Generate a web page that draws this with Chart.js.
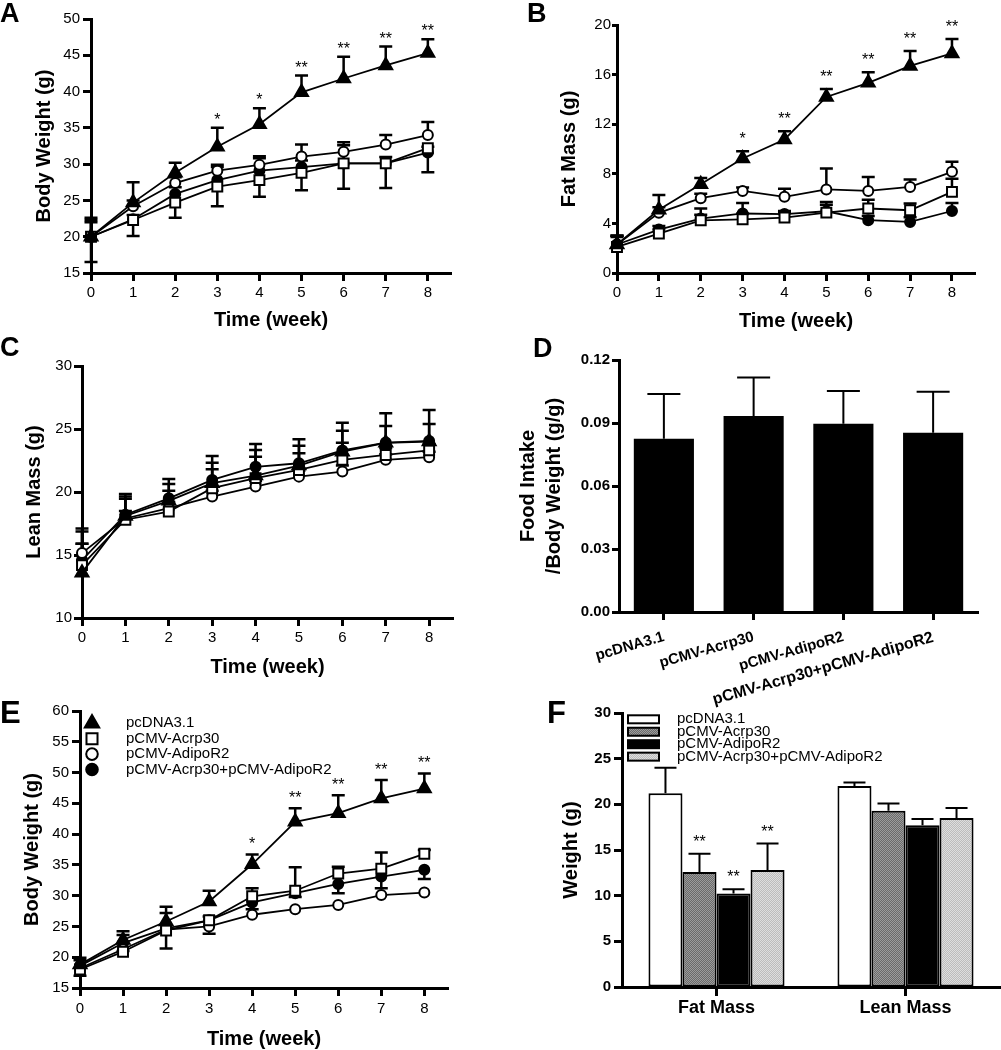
<!DOCTYPE html>
<html><head><meta charset="utf-8">
<script src="https://cdn.jsdelivr.net/npm/chart.js@4.4.1/dist/chart.umd.min.js"></script>
<style>
html,body{margin:0;padding:0;background:#fff;overflow:hidden;width:1001px;height:1050px;position:relative;}
canvas{position:absolute;}
.lbl{position:absolute;font-family:Arial,'Liberation Sans',sans-serif;font-weight:bold;line-height:1;color:#000;}
</style></head><body>
<canvas id="cA" width="470" height="340" style="left:0;top:0"></canvas>
<canvas id="cB" width="501" height="340" style="left:500px;top:0"></canvas>
<canvas id="cC" width="470" height="345" style="left:0;top:340px"></canvas>
<canvas id="cE" width="470" height="375" style="left:0;top:680px"></canvas>
<canvas id="cF" width="501" height="370" style="left:500px;top:680px"></canvas>
<canvas id="cD" width="501" height="385" style="left:500px;top:340px"></canvas>
<div class="lbl" style="left:0;top:0;font-size:27px">A</div>
<div class="lbl" style="left:527px;top:0;font-size:27px">B</div>
<div class="lbl" style="left:0;top:334px;font-size:27px">C</div>
<div class="lbl" style="left:533px;top:335px;font-size:27px">D</div>
<div class="lbl" style="left:0;top:697px;font-size:31px">E</div>
<div class="lbl" style="left:547px;top:697px;font-size:31px">F</div>
<script>
// ---------- data ----------
const weeks = [0, 1, 2, 3, 4, 5, 6, 7, 8];
const groups = ['pcDNA3.1', 'pCMV-Acrp30', 'pCMV-AdipoR2', 'pCMV-Acrp30+pCMV-AdipoR2'];

// Panel A: body weight (g)
const aTri = [20.0, 24.7, 28.8, 32.4, 35.5, 39.9, 41.8, 43.6, 45.3];
const aTriErr = [22.6, 27.5, 30.2, 35.0, 37.7, 42.2, 44.8, 46.2, 47.2];
const aSq = [20.0, 22.3, 24.7, 26.9, 27.8, 28.8, 30.1, 30.1, 32.2];
const aSqErrLow = [16.5, 20.1, 22.6, 24.2, 25.5, 26.4, 26.6, 26.7, 28.9];
const aOc = [20.0, 24.2, 27.4, 29.1, 29.9, 31.05, 31.7, 32.7, 34.0];
const aOcErr = [22.3, 25.0, 28.2, 29.9, 31.1, 32.7, 33.0, 34.0, 35.8];
const aFc = [20.0, 22.4, 25.9, 27.8, 29.1, 29.6, 30.1, 30.1, 31.6];
const aFcErr = [22.0, 23.0, 26.8, 29.6, 30.8, 30.5, 32.6, 31.0, 32.4];
const aStars = ['', '', '', '*', '*', '**', '**', '**', '**'];

// Panel B: fat mass (g)
const bTri = [2.3, 5.1, 7.16, 9.23, 10.77, 14.2, 15.34, 16.7, 17.71];
const bTriErr = [3.0, 6.3, 7.67, 9.82, 11.44, 14.83, 16.18, 17.9, 18.87];
const bSq = [2.1, 3.18, 4.25, 4.33, 4.47, 4.87, 5.2, 5.06, 6.54];
const bSqErr = [2.9, 3.5, 4.7, 4.8, 4.9, 5.5, 5.9, 5.6, 7.6];
const bOc = [2.3, 4.85, 6.03, 6.62, 6.14, 6.74, 6.62, 6.94, 8.16];
const bOcErr = [3.0, 5.3, 6.4, 6.9, 6.8, 8.43, 7.75, 7.54, 8.97];
const bFc = [2.3, 3.5, 4.39, 4.8, 4.75, 4.98, 4.26, 4.12, 5.0];
const bFcErr = [3.0, 3.8, 5.2, 5.65, 5.0, 5.73, 4.6, 4.5, 5.65];
const bStars = ['', '', '', '*', '**', '**', '**', '**', '**'];

// Panel C: lean mass (g)
const cTri = [13.6, 18.1, 19.3, 20.7, 21.3, 22.1, 23.2, 23.9, 24.0];
const cTriErr = [17.1, 19.85, 21.04, 22.86, 23.8, 24.19, 25.5, 26.25, 26.5];
const cSq = [14.2, 17.8, 18.45, 20.3, 21.1, 21.75, 22.55, 22.94, 23.3];
const cSqErr = [15.9, 19.46, 20.1, 21.8, 22.8, 23.08, 23.9, 23.5, 23.8];
const cOc = [15.15, 17.9, 18.72, 19.64, 20.43, 21.22, 21.62, 22.55, 22.76];
const cOcErr = [15.9, 18.5, 19.2, 20.1, 20.9, 21.7, 22.1, 23.0, 23.2];
const cFc = [14.6, 18.2, 19.5, 20.96, 22.0, 22.28, 23.3, 23.92, 24.05];
const cFcErr = [16.87, 19.64, 20.64, 22.33, 23.34, 23.68, 24.87, 25.24, 25.4];

// Panel D: food intake / body weight (g/g)
const dVals = [0.0825, 0.0933, 0.0896, 0.0854];
const dErr = [0.1038, 0.1117, 0.1052, 0.1049];

// Panel E: body weight (g)
const eTri = [18.8, 22.8, 25.8, 29.05, 35.1, 42.0, 43.4, 45.8, 47.4];
const eTriErr = [19.9, 24.2, 28.2, 30.8, 36.7, 44.2, 46.3, 48.8, 49.85];
const eSq = [18.0, 20.9, 24.35, 26.0, 29.9, 30.8, 33.6, 34.4, 36.8];
const eSqErr = [19.5, 23.6, 27.2, 26.6, 31.2, 34.6, 34.7, 37.0, 37.4];
const eOc = [18.2, 21.3, 24.5, 25.0, 26.9, 27.8, 28.5, 30.1, 30.5];
const eFc = [18.6, 22.3, 24.7, 26.0, 28.9, 30.4, 31.9, 33.1, 34.2];
const eFcErrLow = [17.0, 21.0, 21.4, 23.8, 27.8, 29.8, 30.4, 31.2, 32.7];
const eStars = ['', '', '', '', '*', '**', '**', '**', '**'];

// Panel F: weight (g)
const fCats = ['Fat Mass', 'Lean Mass'];
const fPc = [21.2, 22.0];
const fPcErr = [24.0, 22.4];
const fAc = [12.6, 19.3];
const fAcErr = [14.6, 20.1];
const fAd = [10.25, 17.7];
const fAdErr = [10.7, 18.4];
const fCo = [12.8, 18.5];
const fCoErr = [15.7, 19.6];
const fStars = [['', ''], ['**', ''], ['**', ''], ['**', '']];

// ---------- helpers ----------
const FONT = "Arial, 'Liberation Sans', sans-serif";
Chart.defaults.font.family = FONT;
Chart.defaults.color = '#000';
Chart.defaults.font.size = 15;

function drawMarker(ctx, style, x, y, r, fill) {
  ctx.beginPath();
  if (style === 'triangle') {
    ctx.moveTo(x, y - r); ctx.lineTo(x + 0.866 * r, y + 0.5 * r); ctx.lineTo(x - 0.866 * r, y + 0.5 * r); ctx.closePath();
  } else if (style === 'rect') {
    const s = r * Math.SQRT1_2; ctx.rect(x - s, y - s, 2 * s, 2 * s);
  } else { ctx.arc(x, y, r, 0, Math.PI * 2); }
  ctx.fillStyle = fill; ctx.fill(); ctx.lineWidth = 2; ctx.strokeStyle = '#000'; ctx.stroke();
}

const errorBars = {
  id: 'errorBars',
  beforeDatasetsDraw(chart, args, o) {
    const ctx = chart.ctx, ys = chart.scales.y;
    ctx.save();
    ctx.strokeStyle = '#000'; ctx.lineWidth = o.width || 2.5;
    chart.data.datasets.forEach((ds, di) => {
      const meta = chart.getDatasetMeta(di);
      ['errUp', 'errDown'].forEach(key => {
        const arr = ds[key]; if (!arr) return;
        arr.forEach((v, i) => {
          if (v === null || v === undefined) return;
          const el = meta.data[i]; if (!el) return;
          const x = el.x, y0 = el.y, y1 = ys.getPixelForValue(v);
          const h = (o.cap || 13) / 2;
          ctx.beginPath(); ctx.moveTo(x, y0); ctx.lineTo(x, y1);
          ctx.moveTo(x - h, y1); ctx.lineTo(x + h, y1); ctx.stroke();
        });
      });
    });
    ctx.restore();
  }
};

const starMarks = {
  id: 'starMarks',
  afterDatasetsDraw(chart, args, o) {
    const ctx = chart.ctx, ys = chart.scales.y;
    ctx.save(); ctx.fillStyle = '#000'; ctx.font = (o.size || 16) + 'px ' + FONT;
    ctx.textAlign = 'center'; ctx.textBaseline = 'alphabetic';
    chart.data.datasets.forEach((ds, di) => {
      if (!ds.stars) return;
      const meta = chart.getDatasetMeta(di);
      ds.stars.forEach((s, i) => {
        if (!s) return;
        const el = meta.data[i];
        const top = ds.errUp && ds.errUp[i] != null ? ys.getPixelForValue(ds.errUp[i]) : el.y;
        ctx.fillText(s, el.x, top - (o.gap || 4));
      });
    });
    ctx.restore();
  }
};

const markerLegend = {
  id: 'markerLegend',
  afterDraw(chart, args, o) {
    if (!o.show) return;
    const ctx = chart.ctx;
    ctx.save();
    chart.data.datasets.forEach((ds, i) => {
      const y = o.y0 + i * o.dy;
      drawMarker(ctx, ds.pointStyle, o.mx, y, ds.pointRadius + 0.8, ds.pointBackgroundColor);
      ctx.fillStyle = '#000'; ctx.font = '15px ' + FONT; ctx.textAlign = 'left'; ctx.textBaseline = 'middle';
      ctx.fillText(ds.label, o.tx, y);
    });
    ctx.restore();
  }
};

const boxLegend = {
  id: 'boxLegend',
  afterDraw(chart, args, o) {
    if (!o.show) return;
    const ctx = chart.ctx;
    ctx.save();
    chart.data.datasets.forEach((ds, i) => {
      const y = o.y0 + i * o.dy;
      ctx.fillStyle = ds.backgroundColor; ctx.fillRect(o.bx, y - o.bh / 2, o.bw, o.bh);
      ctx.lineWidth = 2; ctx.strokeStyle = '#000'; ctx.strokeRect(o.bx, y - o.bh / 2, o.bw, o.bh);
      ctx.fillStyle = '#000'; ctx.font = '15px ' + FONT; ctx.textAlign = 'left'; ctx.textBaseline = 'middle';
      ctx.fillText(ds.label, o.tx, y);
    });
    ctx.restore();
  }
};
Chart.register(errorBars, starMarks, markerLegend, boxLegend);

function pts(vals) { return weeks.map((w, i) => ({ x: w, y: vals[i] })); }

const STY = {
  tri: { pointStyle: 'triangle', r: 7.5, fill: '#000' },
  sq: { pointStyle: 'rect', r: 7, fill: '#fff' },
  oc: { pointStyle: 'circle', r: 5, fill: '#fff' },
  fc: { pointStyle: 'circle', r: 5, fill: '#000' }
};
function lineDs(label, vals, key, extra) {
  const s = STY[key];
  return Object.assign({
    label: label, data: pts(vals), pointStyle: s.pointStyle, pointRadius: s.r,
    pointBorderWidth: 2, pointBorderColor: '#000', pointBackgroundColor: s.fill,
    backgroundColor: s.fill, borderColor: '#000', borderWidth: 1.8,
    tension: 0, clip: false, fill: false
  }, extra || {});
}

function gridOpts(len) {
  return { display: true, drawOnChartArea: false, drawTicks: true, tickLength: len, tickWidth: 3, tickColor: '#000', offset: false };
}
const borderOpts = { display: true, color: '#000', width: 3 };

function linePanel(id, datasets, yMin, yMax, yStep, yTitle, g) {
  new Chart(document.getElementById(id), {
    type: 'line',
    data: { datasets: datasets },
    options: {
      responsive: false, animation: false, devicePixelRatio: 1,
      layout: { padding: { left: 0, top: g.padTop, right: g.padRight, bottom: 0 } },
      plugins: {
        legend: { display: false }, tooltip: { enabled: false },
        errorBars: { cap: 13, width: 2.5 },
        starMarks: { size: 16, gap: g.starGap },
        markerLegend: g.legend || { show: false }
      },
      scales: {
        x: {
          type: 'linear', min: 0, max: 8.55,
          ticks: { stepSize: 1, includeBounds: false, padding: g.xTickPad, font: { size: 15 }, maxRotation: 0, autoSkip: false },
          grid: gridOpts(8), border: borderOpts,
          title: { display: true, text: 'Time (week)', font: { size: 20, weight: 'bold' }, padding: { top: 0, bottom: g.xTitlePad } },
          afterFit: s => { s.height = g.xH; }
        },
        y: {
          type: 'linear', min: yMin, max: yMax,
          ticks: { stepSize: yStep, padding: g.yTickPad, font: { size: 15 } },
          grid: gridOpts(g.yTickLen), border: borderOpts,
          title: { display: true, text: yTitle, font: { size: 20, weight: 'bold' }, padding: { top: g.yTitlePad, bottom: 0 } },
          afterFit: s => { s.width = g.yW; }
        }
      }
    }
  });
}

// Panel A
linePanel('cA', [
  lineDs(groups[0], aTri, 'tri', { errUp: aTriErr, stars: aStars }),
  lineDs(groups[1], aSq, 'sq', { errDown: aSqErrLow }),
  lineDs(groups[2], aOc, 'oc', { errUp: aOcErr }),
  lineDs(groups[3], aFc, 'fc', { errUp: aFcErr })
], 15, 50, 5, 'Body Weight (g)',
  { padTop: 19, padRight: 19, yW: 91, xH: 67, yTitlePad: 32, xTitlePad: 8, yTickLen: 8, yTickPad: 3, xTickPad: 3, starGap: 3 });

// Panel B
linePanel('cB', [
  lineDs(groups[0], bTri, 'tri', { errUp: bTriErr, stars: bStars }),
  lineDs(groups[1], bSq, 'sq', { errUp: bSqErr }),
  lineDs(groups[2], bOc, 'oc', { errUp: bOcErr }),
  lineDs(groups[3], bFc, 'fc', { errUp: bFcErr })
], 0, 20, 4, 'Fat Mass (g)',
  { padTop: 25, padRight: 26, yW: 117, xH: 67, yTitlePad: 57, xTitlePad: 7, yTickLen: 5, yTickPad: 1, xTickPad: 3, starGap: 7 });

// Panel C
linePanel('cC', [
  lineDs(groups[0], cTri, 'tri', { errUp: cTriErr }),
  lineDs(groups[1], cSq, 'sq', { errUp: cSqErr }),
  lineDs(groups[2], cOc, 'oc', { errUp: cOcErr }),
  lineDs(groups[3], cFc, 'fc', { errUp: cFcErr })
], 10, 30, 5, 'Lean Mass (g)',
  { padTop: 26, padRight: 17, yW: 82, xH: 67, yTitlePad: 22, xTitlePad: 6, yTickLen: 8, yTickPad: 2, xTickPad: 3, starGap: 4 });

// Panel E
linePanel('cE', [
  lineDs(groups[0], eTri, 'tri', { errUp: eTriErr, stars: eStars }),
  lineDs(groups[1], eSq, 'sq', { errUp: eSqErr }),
  lineDs(groups[2], eOc, 'oc', {}),
  lineDs(groups[3], eFc, 'fc', { errDown: eFcErrLow })
], 15, 60, 5, 'Body Weight (g)',
  { padTop: 31, padRight: 22, yW: 80, xH: 67, yTitlePad: 20, xTitlePad: 4, yTickLen: 8, yTickPad: 3, xTickPad: 4, starGap: 5,
    legend: { show: true, mx: 92, tx: 126, y0: 43.3, dy: 15.4 } });

// Panel D
new Chart(document.getElementById('cD'), {
  type: 'bar',
  data: { labels: groups, datasets: [{ label: 'Food intake', data: dVals, errUp: dErr, backgroundColor: '#000', borderWidth: 0, barPercentage: 0.67, categoryPercentage: 1.0 }] },
  options: {
    responsive: false, animation: false, devicePixelRatio: 1,
    layout: { padding: { left: 0, top: 20, right: 23, bottom: 0 } },
    plugins: { legend: { display: false }, tooltip: { enabled: false }, errorBars: { cap: 33, width: 2 } },
    scales: {
      x: {
        type: 'category', offset: true,
        ticks: { font: c => ({ size: c.index === 3 ? 16 : 15, weight: 'bold' }), minRotation: 16, maxRotation: 16, padding: 8, autoSkip: false },
        grid: gridOpts(8), border: borderOpts,
        afterFit: s => { s.height = 113; }
      },
      y: {
        min: 0, max: 0.12,
        ticks: { stepSize: 0.03, padding: 2, font: { size: 15, weight: 'bold' }, callback: v => Number(v).toFixed(2) },
        grid: gridOpts(7), border: borderOpts,
        title: { display: true, text: ['Food Intake', '/Body Weight (g/g)'], font: { size: 20, weight: 'bold', lineHeight: 1.33 }, padding: { top: 15, bottom: 0 } },
        afterFit: s => { s.width = 119; }
      }
    }
  }
});

// Panel F
function pattern(c1, c2) {
  const p = document.createElement('canvas'); p.width = 2; p.height = 2;
  const g = p.getContext('2d');
  g.fillStyle = c1; g.fillRect(0, 0, 2, 2);
  g.fillStyle = c2; g.fillRect(0, 0, 1, 1); g.fillRect(1, 1, 1, 1);
  return g.createPattern(p, 'repeat');
}
const fFills = ['#ffffff', pattern('#6a6a6a', '#9c9c9c'), '#000000', pattern('#bcbcbc', '#dedede')];
function barDs(i, vals, errs) {
  return { label: groups[i], data: vals, errUp: errs, stars: fStars[i], backgroundColor: fFills[i],
    borderColor: '#000', borderWidth: 2, borderSkipped: false, barPercentage: 1.0, categoryPercentage: 0.72 };
}
new Chart(document.getElementById('cF'), {
  type: 'bar',
  data: { labels: fCats, datasets: [barDs(0, fPc, fPcErr), barDs(1, fAc, fAcErr), barDs(2, fAd, fAdErr), barDs(3, fCo, fCoErr)] },
  options: {
    responsive: false, animation: false, devicePixelRatio: 1,
    layout: { padding: { left: 0, top: 33, right: 1, bottom: 0 } },
    plugins: {
      legend: { display: false }, tooltip: { enabled: false },
      errorBars: { cap: 22, width: 2 }, starMarks: { size: 16, gap: 7 },
      boxLegend: { show: true, bx: 128, bw: 31, bh: 8, tx: 177, y0: 39.3, dy: 12.45 }
    },
    scales: {
      x: {
        type: 'category', offset: true,
        ticks: { font: { size: 18, weight: 'bold' }, padding: 1, maxRotation: 0 },
        grid: gridOpts(9), border: borderOpts,
        afterFit: s => { s.height = 63; }
      },
      y: {
        min: 0, max: 30,
        ticks: { stepSize: 5, padding: 3, font: { size: 15, weight: 'bold' } },
        grid: gridOpts(8), border: borderOpts,
        title: { display: true, text: 'Weight (g)', font: { size: 20, weight: 'bold' }, padding: { top: 59, bottom: 0 } },
        afterFit: s => { s.width = 122; }
      }
    }
  }
});
</script>
</body></html>
